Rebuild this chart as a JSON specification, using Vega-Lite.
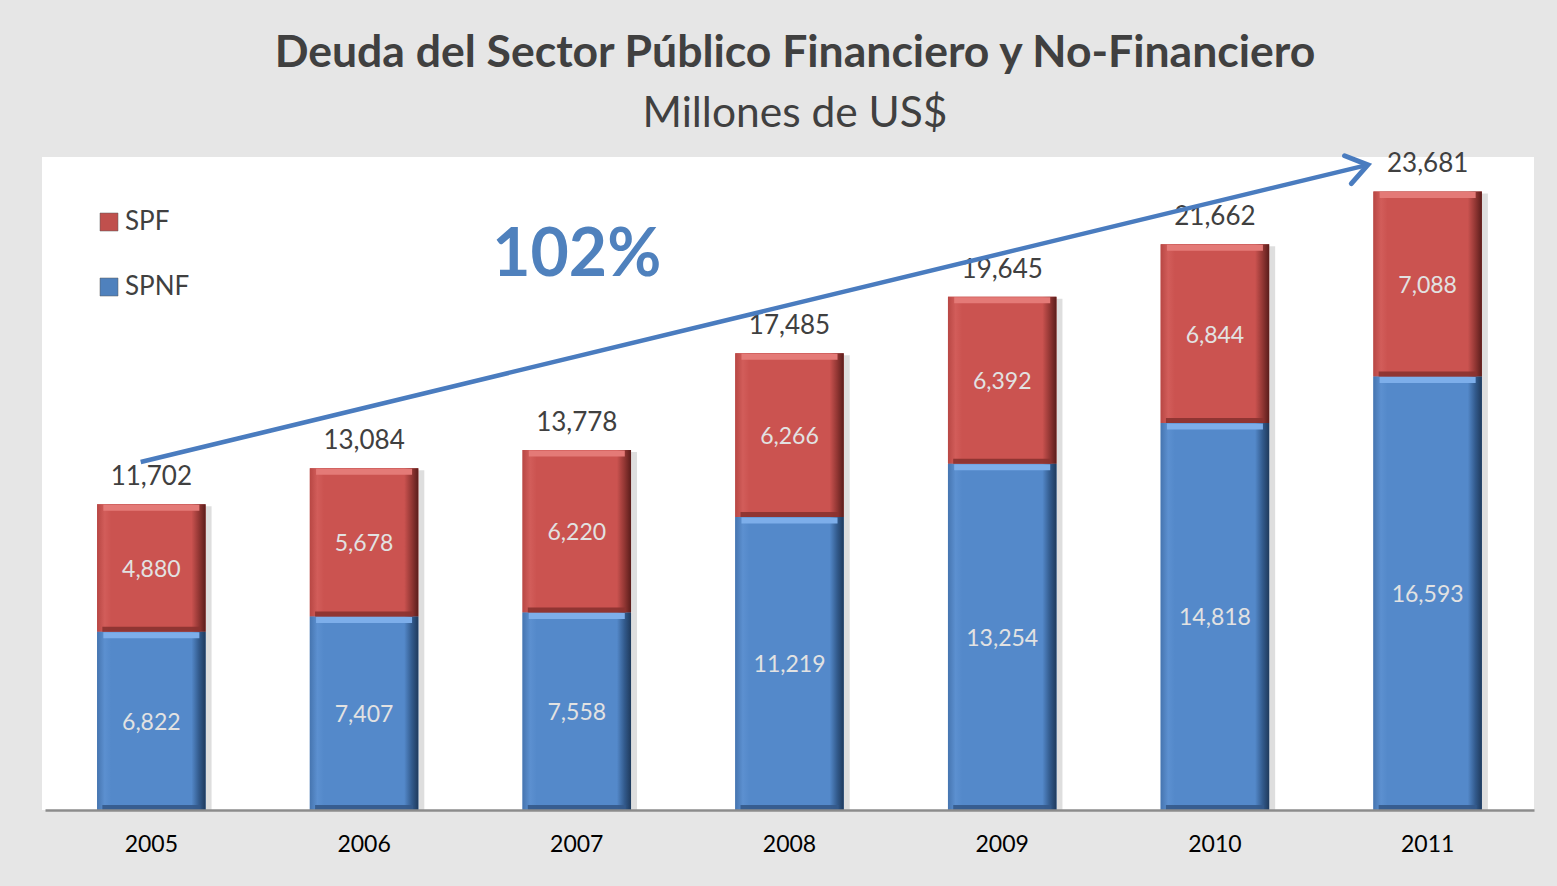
{
  "$schema": "https://vega.github.io/schema/vega-lite/v6.json",
  "width": 1492,
  "height": 653,
  "autosize": {"type": "none"},
  "padding": {"left": 42, "top": 157, "right": 23, "bottom": 76},
  "background": "#E6E6E6",
  "config": {"view": {"fill": "white", "stroke": null}, "font": "Lato"},
  "title": {
    "text": "Deuda del Sector Público Financiero y No-Financiero",
    "subtitle": "Millones de US$",
    "fontSize": 44.5,
    "fontWeight": "bold",
    "color": "#404040",
    "subtitleFontSize": 42.5,
    "subtitleColor": "#404040",
    "subtitleFont": "Lato",
    "subtitlePadding": 17,
    "offset": 9,
    "anchor": "middle",
    "frame": "group",
    "dx": 7
  },
  "datasets": {
    "debt": [
      {"year": "2005", "series": "SPNF", "value": 6822},
      {"year": "2005", "series": "SPF", "value": 4880},
      {"year": "2006", "series": "SPNF", "value": 7407},
      {"year": "2006", "series": "SPF", "value": 5678},
      {"year": "2007", "series": "SPNF", "value": 7558},
      {"year": "2007", "series": "SPF", "value": 6220},
      {"year": "2008", "series": "SPNF", "value": 11219},
      {"year": "2008", "series": "SPF", "value": 6266},
      {"year": "2009", "series": "SPNF", "value": 13254},
      {"year": "2009", "series": "SPF", "value": 6392},
      {"year": "2010", "series": "SPNF", "value": 14818},
      {"year": "2010", "series": "SPF", "value": 6844},
      {"year": "2011", "series": "SPNF", "value": 16593},
      {"year": "2011", "series": "SPF", "value": 7088}
    ],
    "totals": [
      {"year": "2005", "total": 11702},
      {"year": "2006", "total": 13084},
      {"year": "2007", "total": 13778},
      {"year": "2008", "total": 17485},
      {"year": "2009", "total": 19645},
      {"year": "2010", "total": 21662},
      {"year": "2011", "total": 23681}
    ],
    "arrow": [
      {"x": 2004.95, "value": 13323},
      {"x": 2010.719, "value": 24700}
    ],
    "head": [
      {"x": 2010.719, "value": 24700}
    ],
    "annot": [
      {"x": 2007.0, "value": 21200, "label": "102%"}
    ]
  },
  "resolve": {"scale": {"x": "independent"}},
  "layer": [
    {
      "layer": [
        {
          "data": {"name": "totals"},
          "mark": {"type": "bar", "color": "#000000", "opacity": 0.13, "xOffset": 6, "yOffset": 2},
          "encoding": {
            "x": {
              "field": "year",
              "type": "ordinal",
              "scale": {"paddingInner": 0.49, "paddingOuter": 0.245, "range": [3, 1492]},
              "axis": {
                "title": null,
                "labelAngle": 0,
                "labelFontSize": 23,
                "labelColor": "#000000",
                "labelPadding": 23,
                "ticks": false,
                "domainColor": "#8C8C8C",
                "domainWidth": 2.5,
                "zindex": 1
              }
            },
            "y": {"field": "total", "type": "quantitative", "scale": {"domain": [0, 25000], "nice": false}, "axis": null},
            "y2": {"datum": 0}
          }
        },
        {
          "data": {"name": "debt"},
          "transform": [
            {"stack": "value", "groupby": ["year"], "sort": [{"field": "series", "order": "descending"}], "as": ["v0", "v1"]}
          ],
          "mark": {"type": "bar"},
          "encoding": {
            "x": {"field": "year", "type": "ordinal"},
            "y": {"field": "v1", "type": "quantitative"},
            "y2": {"field": "v0"},
            "color": {
              "field": "series",
              "type": "nominal",
              "scale": {"domain": ["SPF", "SPNF"], "range": ["#C0504D", "#4F81BD"]},
              "legend": {
                "title": null,
                "orient": "none",
                "legendX": 54,
                "legendY": 52,
                "padding": 0,
                "symbolType": "square",
                "symbolSize": 324,
                "symbolStrokeColor": "#5A5A5A",
                "symbolStrokeWidth": 0.5,
                "symbolOpacity": 1,
                "labelFontSize": 26,
                "labelColor": "#404040",
                "labelOffset": 3,
                "rowPadding": 39
              }
            }
          }
        },
        {
          "data": {"name": "debt"},
          "transform": [
            {"stack": "value", "groupby": ["year"], "sort": [{"field": "series", "order": "descending"}], "as": ["v0", "v1"]},
            {"filter": "datum.series === 'SPF'"}
          ],
          "mark": {
            "type": "bar",
            "fill": {"gradient": "linear", "x1": 0, "y1": 0, "x2": 1, "y2": 0, "stops": [
              {"offset": 0, "color": "#B84744"},
              {"offset": 0.07, "color": "#D25D5A"},
              {"offset": 0.13, "color": "#CB5350"},
              {"offset": 0.87, "color": "#CB5350"},
              {"offset": 0.94, "color": "#913633"},
              {"offset": 1, "color": "#5A1D1B"}
            ]}
          },
          "encoding": {
            "x": {"field": "year", "type": "ordinal"},
            "y": {"field": "v1", "type": "quantitative"},
            "y2": {"field": "v0"}
          }
        },
        {
          "data": {"name": "debt"},
          "transform": [
            {"stack": "value", "groupby": ["year"], "sort": [{"field": "series", "order": "descending"}], "as": ["v0", "v1"]},
            {"filter": "datum.series === 'SPNF'"}
          ],
          "mark": {
            "type": "bar",
            "fill": {"gradient": "linear", "x1": 0, "y1": 0, "x2": 1, "y2": 0, "stops": [
              {"offset": 0, "color": "#4675B0"},
              {"offset": 0.07, "color": "#5C90D0"},
              {"offset": 0.13, "color": "#5489CA"},
              {"offset": 0.87, "color": "#5489CA"},
              {"offset": 0.94, "color": "#325A8C"},
              {"offset": 1, "color": "#1F3A5C"}
            ]}
          },
          "encoding": {
            "x": {"field": "year", "type": "ordinal"},
            "y": {"field": "v1", "type": "quantitative"},
            "y2": {"field": "v0"}
          }
        },
        {
          "data": {"name": "debt"},
          "transform": [
            {"stack": "value", "groupby": ["year"], "sort": [{"field": "series", "order": "descending"}], "as": ["v0", "v1"]}
          ],
          "mark": {"type": "tick", "thickness": 6, "size": 96, "yOffset": 3.5, "opacity": 1},
          "encoding": {
            "x": {"field": "year", "type": "ordinal"},
            "y": {"field": "v1", "type": "quantitative"},
            "color": {
              "field": "series",
              "type": "nominal",
              "scale": {"domain": ["SPF", "SPNF"], "range": ["#E47A77", "#7DAEEA"]},
              "legend": null
            }
          }
        },
        {
          "data": {"name": "debt"},
          "transform": [
            {"stack": "value", "groupby": ["year"], "sort": [{"field": "series", "order": "descending"}], "as": ["v0", "v1"]}
          ],
          "mark": {"type": "tick", "thickness": 5, "size": 98, "yOffset": -2.5, "opacity": 0.9},
          "encoding": {
            "x": {"field": "year", "type": "ordinal"},
            "y": {"field": "v0", "type": "quantitative"},
            "color": {
              "field": "series",
              "type": "nominal",
              "scale": {"domain": ["SPF", "SPNF"], "range": ["#8A3230", "#34598A"]},
              "legend": null
            }
          }
        },
        {
          "data": {"name": "debt"},
          "transform": [
            {"stack": "value", "groupby": ["year"], "sort": [{"field": "series", "order": "descending"}], "as": ["v0", "v1"]},
            {"fold": ["v0", "v1"], "as": ["edge", "pos"]}
          ],
          "mark": {"type": "text", "fontSize": 23, "color": "#E2E2E2", "baseline": "middle", "align": "center", "dy": 2},
          "encoding": {
            "x": {"field": "year", "type": "ordinal"},
            "y": {"field": "pos", "type": "quantitative", "aggregate": "mean"},
            "detail": {"field": "series"},
            "text": {"field": "value", "aggregate": "max", "format": ","}
          }
        },
        {
          "data": {"name": "totals"},
          "mark": {"type": "text", "fontSize": 26, "color": "#404040", "baseline": "alphabetic", "align": "center", "dy": -19},
          "encoding": {
            "x": {"field": "year", "type": "ordinal"},
            "y": {"field": "total", "type": "quantitative"},
            "text": {"field": "total", "format": ","}
          }
        }
      ],
      "resolve": {"scale": {"color": "independent"}}
    },
    {
      "layer": [
        {
          "data": {"name": "arrow"},
          "mark": {"type": "line", "color": "#4A7CBF", "strokeWidth": 4.5, "strokeCap": "butt"},
          "encoding": {
            "x": {"field": "x", "type": "quantitative", "scale": {"domain": [2004.486, 2011.5], "nice": false, "zero": false}, "axis": null},
            "y": {"field": "value", "type": "quantitative"}
          }
        },
        {
          "data": {"name": "head"},
          "mark": {"type": "point", "shape": "M-1,-0.7L0,0L-1,0.7", "filled": false, "stroke": "#4A7CBF", "strokeWidth": 5, "strokeCap": "round", "strokeJoin": "miter", "size": 1680, "angle": 346.4, "opacity": 1},
          "encoding": {
            "x": {"field": "x", "type": "quantitative", "scale": {"domain": [2004.486, 2011.5], "nice": false, "zero": false}, "axis": null},
            "y": {"field": "value", "type": "quantitative"}
          }
        },
        {
          "data": {"name": "annot"},
          "mark": {"type": "text", "fontSize": 66, "fontWeight": "bold", "color": "#4F81BD", "baseline": "middle", "align": "center"},
          "encoding": {
            "x": {"field": "x", "type": "quantitative", "scale": {"domain": [2004.486, 2011.5], "nice": false, "zero": false}, "axis": null},
            "y": {"field": "value", "type": "quantitative"},
            "text": {"field": "label"}
          }
        }
      ]
    }
  ]
}
